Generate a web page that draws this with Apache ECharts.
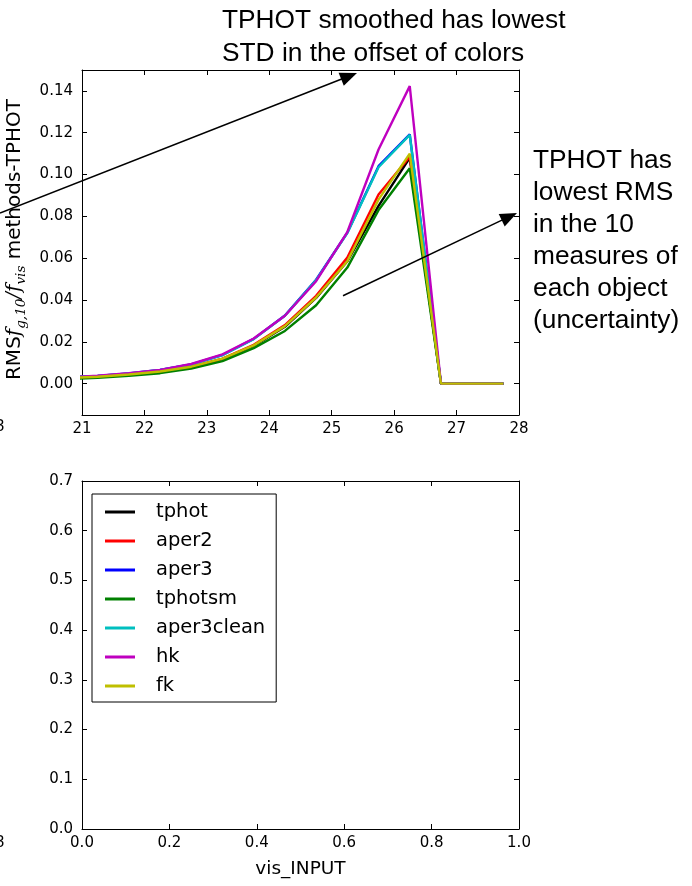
<!DOCTYPE html>
<html>
<head>
<meta charset="utf-8">
<script src="https://cdn.jsdelivr.net/npm/echarts@6/dist/echarts.min.js"></script>
<style>
html,body{margin:0;padding:0;background:#fff;}
#chart{width:692px;height:886px;}
</style>
</head>
<body>
<div id="chart"></div>
<script>
// ---- data (bin centres of vis_INPUT magnitude) ----
const magBins   = [20.75, 21.25, 21.75, 22.25, 22.75, 23.25, 23.75, 24.25, 24.75, 25.25, 25.75, 26.25, 26.75, 27.25, 27.75];
const tphot     = [0.0025, 0.0032, 0.0043, 0.0057, 0.0079, 0.0117, 0.0180, 0.0272, 0.0410, 0.0585, 0.0850, 0.1080, 0, 0, 0];
const aper2     = [0.0026, 0.0033, 0.0044, 0.0058, 0.0081, 0.0120, 0.0186, 0.0280, 0.0420, 0.0603, 0.0905, 0.1085, 0, 0, 0];
const aper3     = [0.0030, 0.0037, 0.0049, 0.0065, 0.0092, 0.0137, 0.0214, 0.0326, 0.0497, 0.0722, 0.1040, 0.1192, 0, 0, 0];
const tphotsm   = [0.0022, 0.0028, 0.0038, 0.0050, 0.0072, 0.0108, 0.0170, 0.0252, 0.0375, 0.0555, 0.0830, 0.1030, 0, 0, 0];
const aper3clean= [0.0030, 0.0037, 0.0049, 0.0065, 0.0092, 0.0136, 0.0213, 0.0325, 0.0495, 0.0720, 0.1035, 0.1190, 0, 0, 0];
const hk        = [0.0030, 0.0038, 0.0050, 0.0066, 0.0094, 0.0140, 0.0216, 0.0325, 0.0490, 0.0725, 0.1120, 0.1423, 0, 0, 0];
const fk        = [0.0026, 0.0033, 0.0044, 0.0058, 0.0081, 0.0120, 0.0183, 0.0275, 0.0412, 0.0585, 0.0880, 0.1100, 0, 0, 0];

const seriesNames  = ['tphot', 'aper2', 'aper3', 'tphotsm', 'aper3clean', 'hk', 'fk'];
const seriesValues = [tphot, aper2, aper3, tphotsm, aper3clean, hk, fk];
const seriesColors = ['#000000', '#ff0000', '#0000ff', '#008000', '#00bfbf', '#bf00bf', '#bfbf00'];

const topYTicks    = [0, 0.02, 0.04, 0.06, 0.08, 0.10, 0.12, 0.14];
const topXRange    = [21, 28];
const topYRange    = [-0.015, 0.15];
const bottomXRange = [0, 1];
const bottomYRange = [0, 0.7];

const annotationTop   = 'TPHOT smoothed has lowest\nSTD in the offset of colors';
const annotationRight = 'TPHOT has\nlowest RMS\nin the 10\nmeasures of\neach object\n(uncertainty)';

// ---- chart ----
const chart = echarts.init(document.getElementById('chart'), null, {renderer: 'canvas'});
const tickFont = {fontFamily: 'DejaVu Sans', fontSize: 15, color: '#000'};
const axLine = {show: true, onZero: false, lineStyle: {color: '#000', width: 1}};
const tickIn = {show: true, inside: true, length: 5, lineStyle: {color: '#000', width: 1}};

function mkX(gridIndex, range, interval, pos, showLabel, fmt, extra) {
  return Object.assign({
    type: 'value', gridIndex, min: range[0], max: range[1], interval, position: pos,
    axisLine: axLine, axisTick: tickIn, splitLine: {show: false},
    axisLabel: {show: showLabel, margin: 7, formatter: fmt, ...tickFont}
  }, extra || {});
}
function mkY(gridIndex, range, interval, pos, showLabel, fmt, extra) {
  return Object.assign({
    type: 'value', gridIndex, min: range[0], max: range[1], interval, position: pos,
    axisLine: axLine, axisTick: tickIn, splitLine: {show: false},
    axisLabel: {show: showLabel, margin: 9, formatter: fmt, ...tickFont}
  }, extra || {});
}

const fmt0 = v => String(Math.round(v));
const fmt1 = v => v.toFixed(1);
const fmt2 = v => v.toFixed(2);

const yNameRich = {
  n: {fontFamily: 'DejaVu Sans', fontSize: 20, color: '#000', lineHeight: 28},
  m: {fontFamily: 'DejaVu Serif', fontStyle: 'italic', fontSize: 20, color: '#000', lineHeight: 28},
  s: {fontFamily: 'DejaVu Serif', fontStyle: 'italic', fontSize: 13.5, color: '#000', lineHeight: 28, verticalAlign: 'bottom'}
};

const option = {
  backgroundColor: '#fff',
  animation: false,
  grid: [
    {left: 82, top: 70, width: 437, height: 345, containLabel: false, outerBoundsMode: 'none'},
    {left: 82, top: 481, width: 437, height: 348, containLabel: false, outerBoundsMode: 'none'}
  ],
  xAxis: [
    mkX(0, topXRange, 1, 'bottom', true, fmt0),
    mkX(0, topXRange, 1, 'top', false, fmt0),
    mkX(1, bottomXRange, 0.2, 'bottom', true, fmt1, {
      name: 'vis_INPUT', nameLocation: 'middle', nameGap: 31,
      nameTextStyle: {fontFamily: 'DejaVu Sans', fontSize: 18.5, color: '#000'}
    }),
    mkX(1, bottomXRange, 0.2, 'top', false, fmt1)
  ],
  yAxis: [
    mkY(0, topYRange, null, 'left', true, fmt2, {
      axisLabel: {show: true, margin: 9, formatter: fmt2, customValues: topYTicks, ...tickFont},
      axisTick: Object.assign({}, tickIn, {customValues: topYTicks}),
      name: '{n|RMS}{m|f}{s|g,10}{m|/f}{s|vis}{n| methods-TPHOT}',
      nameLocation: 'middle', nameGap: 48, nameRotate: 90,
      nameTextStyle: {rich: yNameRich, fontSize: 20, color: '#000', padding: [0, 0, 0, 6]}
    }),
    mkY(0, topYRange, null, 'right', false, fmt2, {
      axisLabel: {show: false, customValues: topYTicks},
      axisTick: Object.assign({}, tickIn, {customValues: topYTicks})
    }),
    mkY(1, bottomYRange, 0.1, 'left', true, fmt1),
    mkY(1, bottomYRange, 0.1, 'right', false, fmt1)
  ],
  legend: {
    show: true,
    data: seriesNames,
    orient: 'vertical',
    left: 92, top: 494,
    padding: [8, 11, 6, 13],
    itemGap: 9,
    itemWidth: 30, itemHeight: 3,
    icon: 'rect',
    selectedMode: false,
    borderColor: '#000', borderWidth: 1,
    backgroundColor: '#fff',
    textStyle: {fontFamily: 'DejaVu Sans', fontSize: 19.5, color: '#000', padding: [0, 0, 0, 16]}
  },
  series: seriesNames.map((name, i) => ({
    name,
    type: 'line',
    xAxisIndex: 0, yAxisIndex: 0,
    data: magBins.map((x, j) => [x, seriesValues[i][j]]),
    showSymbol: false,
    symbol: 'none',
    clip: true,
    color: seriesColors[i],
    lineStyle: {color: seriesColors[i], width: 2.4},
    emphasis: {disabled: true}
  })),
  graphic: [
    // upper-left arrow
    {type: 'line', shape: {x1: 0, y1: 213, x2: 343, y2: 78.5}, style: {stroke: '#000', lineWidth: 1.5}, z: 100},
    {type: 'polygon', shape: {points: [[357, 73], [343.8, 85.7], [338.6, 72.7]]}, style: {fill: '#000'}, z: 100},
    // lower arrow
    {type: 'line', shape: {x1: 343, y1: 295.7, x2: 503, y2: 219.6}, style: {stroke: '#000', lineWidth: 1.5}, z: 100},
    {type: 'polygon', shape: {points: [[517, 213], [504.7, 226.6], [498.7, 214]]}, style: {fill: '#000'}, z: 100},
    // annotations
    {type: 'text', left: 222, top: 4, z: 100,
     style: {text: annotationTop, font: '26.3px "Liberation Sans", Arial, sans-serif', fill: '#000', lineHeight: 33}},
    {type: 'text', left: 533, top: 145, z: 100,
     style: {text: annotationRight, font: '26.3px "Liberation Sans", Arial, sans-serif', fill: '#000', lineHeight: 32}},
    // clipped tick labels of a neighbouring panel at the left edge
    {type: 'text', left: -5, top: 420, z: 100, style: {text: '8', font: '15px "DejaVu Sans"', fill: '#000'}},
    {type: 'text', left: -5, top: 836, z: 100, style: {text: '8', font: '15px "DejaVu Sans"', fill: '#000'}}
  ]
};
chart.setOption(option);
</script>
</body>
</html>
